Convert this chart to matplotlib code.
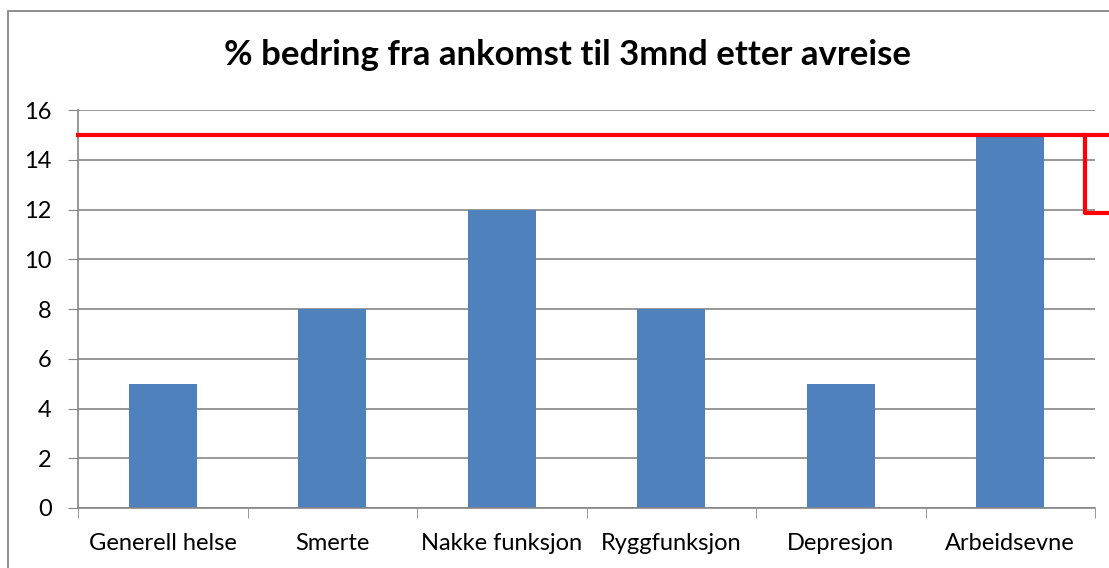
import matplotlib
matplotlib.use("Agg")
import matplotlib.pyplot as plt
from matplotlib.patches import Rectangle
from matplotlib.lines import Line2D

categories = ["Generell helse", "Smerte", "Nakke funksjon", "Ryggfunksjon",
              "Depresjon", "Arbeidsevne"]
values = [5, 8, 12, 8, 5, 15]
yticks = list(range(0, 17, 2))
marker_level = 15
box_bottom = 11.85

W, H = 1109, 568
fig = plt.figure(figsize=(W / 100, H / 100), dpi=100)
plt.rcParams["font.family"] = ["Lato", "DejaVu Sans"]

# outer chart frame (cropped on right/bottom)
fig.add_artist(Rectangle((8 / W, -0.1), 2.0, 1 - 11 / H + 0.1,
                         transform=fig.transFigure, fill=False,
                         edgecolor="#868686", linewidth=1.3))

ax = fig.add_axes([78 / W, 1 - 508 / H, (1095 - 78) / W, (508 - 110) / H])
x = range(len(categories))
ax.bar(x, values, width=0.4, color="#4F81BD", zorder=2)
ax.set_xlim(-0.5, len(categories) - 0.5)
ax.set_ylim(0, 16)
ax.set_yticks(yticks)
ax.set_yticklabels([str(t) for t in yticks], fontsize=17)
ax.set_xticks(list(x))
ax.set_xticklabels(categories, fontsize=17)
ax.tick_params(axis="x", length=0, pad=18)
ax.tick_params(axis="y", length=7, color="#868686", pad=12)
ax.set_xticks([i - 0.5 for i in range(len(categories) + 1)], minor=True)
ax.tick_params(axis="x", which="minor", length=7, color="#868686")
ax.yaxis.grid(True, color="#868686", linewidth=1.2, zorder=0)
ax.set_axisbelow(True)
for s in ["top", "right"]:
    ax.spines[s].set_visible(False)
for s in ["left", "bottom"]:
    ax.spines[s].set_color("#868686")
    ax.spines[s].set_linewidth(1.2)

fig.text(567 / W, 1 - 55 / H, "% bedring fra ankomst til 3mnd etter avreise",
         ha="center", va="center", fontsize=25, fontweight="bold")

# red highlight line and box
trans = ax.get_yaxis_transform()
ax.add_line(Line2D([0, 2.0], [marker_level, marker_level], transform=trans,
                   color="#FF0000", linewidth=3, clip_on=False, zorder=5))
bx = (1085 - 78) / (1095 - 78)
ax.add_line(Line2D([bx, bx, 2.0], [marker_level, box_bottom, box_bottom],
                   transform=trans, color="#FF0000", linewidth=3,
                   clip_on=False, zorder=5))

fig.savefig("out.png", dpi=100)
